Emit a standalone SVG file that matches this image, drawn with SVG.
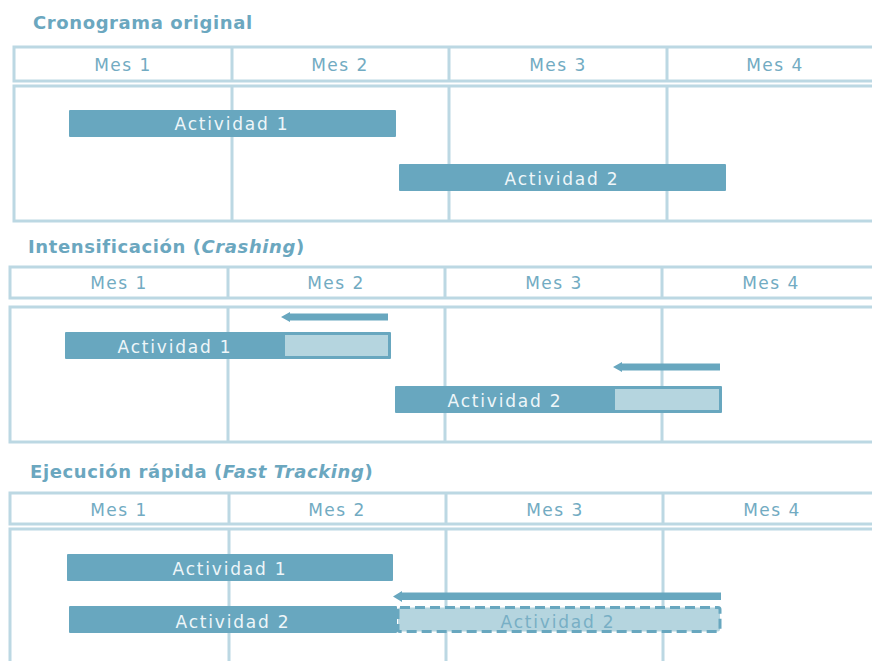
<svg xmlns="http://www.w3.org/2000/svg" width="872" height="661" viewBox="0 0 872 661">
<style>
.title{font-family:"DejaVu Sans",Verdana,sans-serif;font-weight:bold;font-size:18px;fill:#6ba7bf;letter-spacing:0.6px}
.title .it{font-style:italic}
.grid{fill:none;stroke:#bcd8e3;stroke-width:3}
.mes{font-family:"DejaVu Sans",Verdana,sans-serif;font-size:17px;fill:#72abc2;text-anchor:middle;letter-spacing:1.5px}
.bar{fill:#68a7bf}
.light{fill:#b5d5df}
.dash{fill:#b5d5df;stroke:#68a7bf;stroke-width:3;stroke-dasharray:10 5}
.lbl{font-family:"DejaVu Sans",Verdana,sans-serif;font-size:17px;fill:#eef6f9;text-anchor:middle;letter-spacing:1.8px}
.lbl2{font-family:"DejaVu Sans",Verdana,sans-serif;font-size:17px;fill:#78afc5;text-anchor:middle;letter-spacing:1.8px}
.arrow{fill:#68a7bf}
</style>
<rect width="872" height="661" fill="#ffffff"/>

<!-- Panel 1 -->
<g id="panel1">
  <text class="title" x="33" y="29">Cronograma original</text>
  <rect class="grid" x="14" y="47" width="900" height="34"/>
  <rect class="grid" x="14" y="86" width="900" height="135"/>
  <path class="grid" d="M232,47V81M449,47V81M667,47V81M232,86V221M449,86V221M667,86V221"/>
  <text class="mes" x="123" y="71">Mes 1</text>
  <text class="mes" x="340" y="71">Mes 2</text>
  <text class="mes" x="558" y="71">Mes 3</text>
  <text class="mes" x="775" y="71">Mes 4</text>
</g>
<g id="p1-act1">
  <rect class="bar" x="69" y="110" width="327" height="27" rx="1"/>
  <text class="lbl" x="232" y="130">Actividad 1</text>
</g>
<g id="p1-act2">
  <rect class="bar" x="399" y="164" width="327" height="27" rx="1"/>
  <text class="lbl" x="562" y="185">Actividad 2</text>
</g>

<!-- Panel 2 -->
<g id="panel2">
  <text class="title" x="28" y="253">Intensificación (<tspan class="it">Crashing</tspan>)</text>
  <rect class="grid" x="10" y="267" width="900" height="31"/>
  <rect class="grid" x="10" y="307" width="900" height="135"/>
  <path class="grid" d="M228,267V298M445,267V298M662,267V298M228,307V442M445,307V442M662,307V442"/>
  <text class="mes" x="119" y="289">Mes 1</text>
  <text class="mes" x="336" y="289">Mes 2</text>
  <text class="mes" x="554" y="289">Mes 3</text>
  <text class="mes" x="771" y="289">Mes 4</text>
</g>
<g id="p2-act1">
  <rect class="bar" x="65" y="332" width="326" height="27" rx="1"/>
  <rect class="light" x="285" y="335" width="103" height="21"/>
  <text class="lbl" x="175" y="353">Actividad 1</text>
</g>
<g id="p2-act2">
  <rect class="bar" x="395" y="386" width="327" height="27" rx="1"/>
  <rect class="light" x="615" y="389" width="104" height="21"/>
  <text class="lbl" x="505" y="407">Actividad 2</text>
</g>

<!-- Panel 3 -->
<g id="panel3">
  <text class="title" x="30" y="478">Ejecución rápida (<tspan class="it">Fast Tracking</tspan>)</text>
  <rect class="grid" x="10" y="493" width="900" height="31"/>
  <rect class="grid" x="10" y="529" width="900" height="150"/>
  <path class="grid" d="M229,493V524M446,493V524M663,493V524M229,529V680M446,529V680M663,529V680"/>
  <text class="mes" x="119" y="516">Mes 1</text>
  <text class="mes" x="337" y="516">Mes 2</text>
  <text class="mes" x="555" y="516">Mes 3</text>
  <text class="mes" x="772" y="516">Mes 4</text>
</g>
<g id="p3-act1">
  <rect class="bar" x="67" y="554" width="326" height="27" rx="1"/>
  <text class="lbl" x="230" y="575">Actividad 1</text>
</g>
<g id="p3-act2">
  <rect class="bar" x="69" y="606" width="328" height="27" rx="1"/>
  <text class="lbl" x="233" y="628">Actividad 2</text>
</g>
<g id="p3-act2-moved">
  <rect class="dash" x="398" y="607.5" width="322" height="24" rx="2"/>
  <text class="lbl2" x="558" y="628">Actividad 2</text>
</g>

<!-- Connectors (shift arrows) -->
<g id="connectors">
  <path class="arrow" d="M388,313.5 H290 V312 L281,317 L290,322 V320.5 H388 Z"/>
  <path class="arrow" d="M720,363.5 H622 V362 L613,367 L622,372 V370.5 H720 Z"/>
  <path class="arrow" d="M721,592.5 H402 V591 L393,596.5 L402,602 V600 H721 Z"/>
</g>
</svg>
